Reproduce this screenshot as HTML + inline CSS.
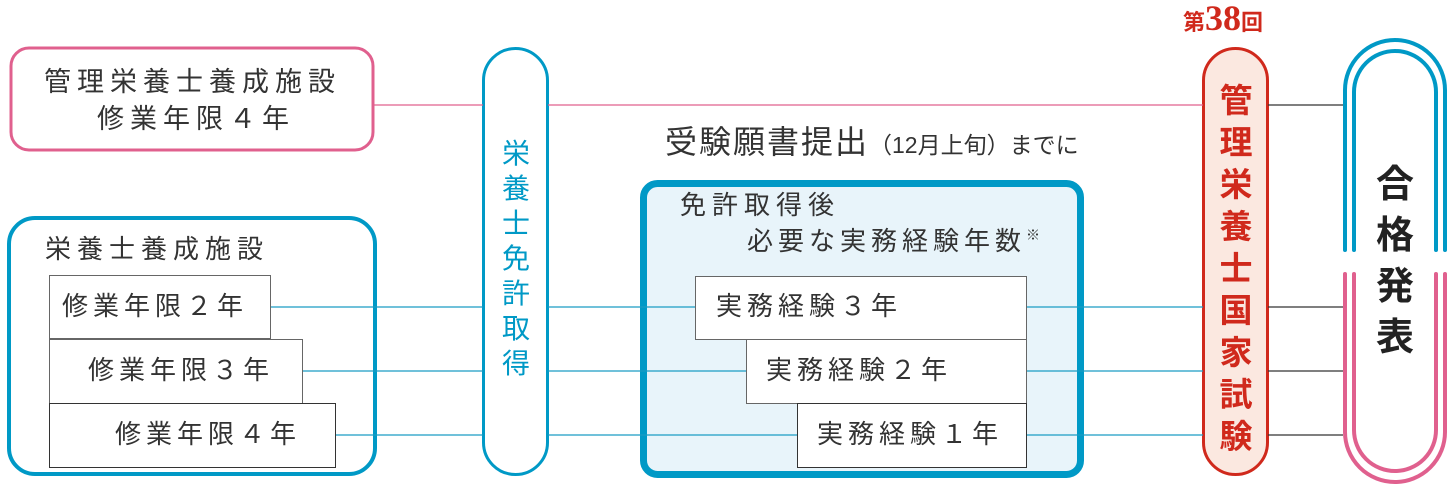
<!DOCTYPE html>
<html><head><meta charset="utf-8"><style>
body{margin:0;width:1449px;height:486px;background:#fff;position:relative;overflow:hidden;font-family:"Liberation Sans","Noto Sans CJK JP",sans-serif;color:#333}
.t{position:absolute;white-space:nowrap;line-height:1}
.v{position:absolute;text-align:center;line-height:1}
</style></head><body>
<svg width="1449" height="486" style="position:absolute;left:0;top:0">
<rect x="11" y="48" width="362" height="102" rx="18" fill="#fff" stroke="#e0608e" stroke-width="3"/>
<rect x="9" y="218" width="366" height="256" rx="26" fill="#fff" stroke="#0099c6" stroke-width="4"/>
<rect x="49.5" y="275.5" width="221" height="63" fill="#fff" stroke="#666"/>
<rect x="49.5" y="339.5" width="253" height="64" fill="#fff" stroke="#666"/>
<rect x="49.5" y="403.5" width="286" height="64" fill="#fff" stroke="#333"/>
<rect x="483.5" y="48.5" width="64" height="426" rx="32" fill="#fff" stroke="#0099c6" stroke-width="3"/>
<rect x="643.5" y="183.5" width="437" height="291" rx="14" fill="#e8f4fa" stroke="#0099c6" stroke-width="7"/>
<rect x="695.5" y="276.5" width="331" height="63" fill="#fff" stroke="#666"/>
<rect x="746.5" y="339.5" width="280" height="64" fill="#fff" stroke="#666"/>
<rect x="797.5" y="403.5" width="229" height="64" fill="#fff" stroke="#333"/>
<rect x="1203.5" y="48.5" width="64" height="426" rx="32" fill="#fbe8e0" stroke="#d0291c" stroke-width="3"/>
<g fill="none" stroke-width="4" stroke-linecap="round">
<path d="M1345 250 V90 A50 50 0 0 1 1445 90 V250" stroke="#0099c6"/>
<path d="M1354 250 V92 A41 41 0 0 1 1436 92 V250" stroke="#0099c6"/>
<path d="M1345 274 V432 A50 50 0 0 0 1445 432 V274" stroke="#e0608e"/>
<path d="M1354 274 V430 A41 41 0 0 0 1436 430 V274" stroke="#e0608e"/>
</g>
<g stroke-width="1.3" fill="none">
<line x1="374" y1="105" x2="483" y2="105" stroke="#e0608e"/>
<line x1="548" y1="105" x2="1203" y2="105" stroke="#e0608e"/>
<line x1="1268" y1="105" x2="1343" y2="105" stroke="#333"/>
<line x1="271" y1="307" x2="483" y2="307" stroke="#1a9cc4"/>
<line x1="303" y1="371" x2="483" y2="371" stroke="#1a9cc4"/>
<line x1="336" y1="435" x2="483" y2="435" stroke="#1a9cc4"/>
<line x1="548" y1="307" x2="695" y2="307" stroke="#1a9cc4"/>
<line x1="548" y1="371" x2="746" y2="371" stroke="#1a9cc4"/>
<line x1="548" y1="435" x2="797" y2="435" stroke="#1a9cc4"/>
<line x1="1027" y1="307" x2="1203" y2="307" stroke="#1a9cc4"/>
<line x1="1027" y1="371" x2="1203" y2="371" stroke="#1a9cc4"/>
<line x1="1027" y1="435" x2="1203" y2="435" stroke="#1a9cc4"/>
<line x1="1268" y1="307" x2="1343" y2="307" stroke="#333"/>
<line x1="1268" y1="371" x2="1343" y2="371" stroke="#333"/>
<line x1="1268" y1="435" x2="1343" y2="435" stroke="#333"/>
</g>
</svg>
<div class="t" style="left:44px;top:69px;font-size:27px;letter-spacing:6px">管理栄養士養成施設</div>
<div class="t" style="left:97px;top:106px;font-size:27px;letter-spacing:6px">修業年限４年</div>
<div class="t" style="left:45px;top:236px;font-size:26px;letter-spacing:6px">栄養士養成施設</div>
<div class="t" style="left:62px;top:293px;font-size:26px;letter-spacing:5px">修業年限２年</div>
<div class="t" style="left:88px;top:357px;font-size:26px;letter-spacing:5px">修業年限３年</div>
<div class="t" style="left:115px;top:421px;font-size:26px;letter-spacing:5px">修業年限４年</div>
<div class="v" style="left:483px;top:136px;width:66px;font-size:28px;line-height:35px;color:#0099c6">栄<br>養<br>士<br>免<br>許<br>取<br>得</div>
<div class="t" style="left:665px;top:126px;font-size:32px;letter-spacing:2px">受験願書提出<span style="font-size:23px;letter-spacing:0">（12月上旬）までに</span></div>
<div class="t" style="left:680px;top:192px;font-size:26px;letter-spacing:6px">免許取得後</div>
<div class="t" style="left:747px;top:228px;font-size:26px;letter-spacing:5px">必要な実務経験年数<span style="font-size:14px;vertical-align:top">※</span></div>
<div class="t" style="left:716px;top:293px;font-size:26px;letter-spacing:5px">実務経験３年</div>
<div class="t" style="left:766px;top:357px;font-size:26px;letter-spacing:5px">実務経験２年</div>
<div class="t" style="left:817px;top:421px;font-size:26px;letter-spacing:5px">実務経験１年</div>
<div class="t" style="left:1183px;top:0px;font-size:22px;color:#d0291c;font-weight:bold">第<span style="font-size:36px;font-family:'Liberation Serif',serif;">38</span>回</div>
<div class="v" style="left:1203px;top:80px;width:66px;font-size:33px;line-height:42px;color:#d0291c;font-weight:bold">管<br>理<br>栄<br>養<br>士<br>国<br>家<br>試<br>験</div>
<div class="v" style="left:1345px;top:160px;width:100px;font-size:38px;line-height:51px;color:#222;font-weight:bold">合<br>格<br>発<br>表</div>
</body></html>
